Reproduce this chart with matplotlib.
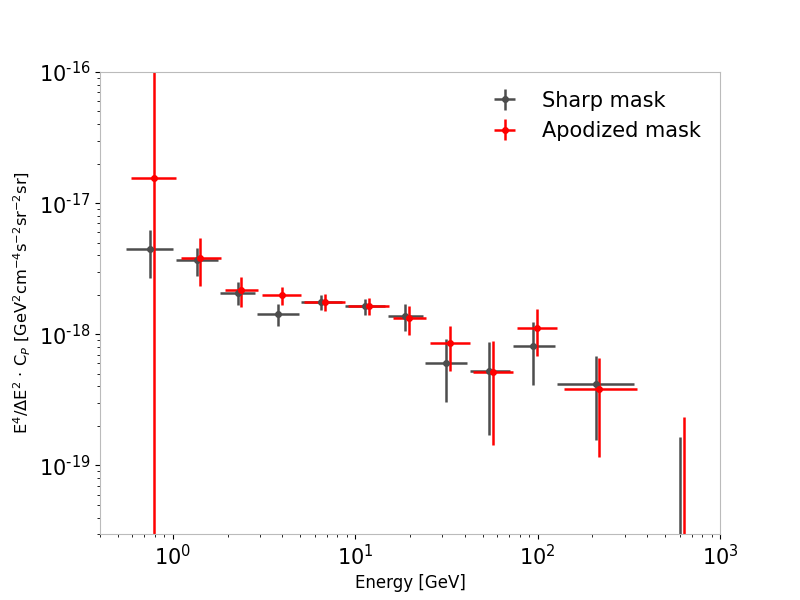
import numpy as np
import matplotlib
matplotlib.use('Agg')
from matplotlib import pyplot as plt
from matplotlib.ticker import FuncFormatter, FixedLocator

# sharp mask
sharp_e = [0.748, 1.355, 2.27, 3.78, 6.5, 11.35, 18.8, 31.6, 54.5, 95.0, 208.0, 603.0]
sharp_e_lo = [0.552, 1.05, 1.81, 2.89, 5.05, 8.8, 15.2, 24.2, 42.4, 73.0, 128.0, 590.0]
sharp_e_hi = [1.01, 1.77, 2.82, 4.92, 8.5, 14.6, 23.6, 41.2, 71.0, 124.0, 339.0, 615.0]
sharp_c = [4.49e-18, 3.70e-18, 2.07e-18, 1.43e-18, 1.77e-18, 1.65e-18, 1.39e-18,
           6.08e-19, 5.28e-19, 8.19e-19, 4.21e-19, 1.0e-20]
sharp_c_hi = [6.26e-18, 4.57e-18, 2.52e-18, 1.71e-18, 2.00e-18, 1.87e-18, 1.71e-18,
              9.25e-19, 8.79e-19, 1.23e-18, 6.87e-19, 1.66e-19]
sharp_c_lo = [2.71e-18, 2.79e-18, 1.68e-18, 1.16e-18, 1.54e-18, 1.41e-18, 1.06e-18,
              3.07e-19, 1.72e-19, 4.13e-19, 1.57e-19, 1.0e-21]

# apodized mask
apod_e = [0.786, 1.42, 2.38, 3.97, 6.83, 11.9, 19.7, 33.2, 57.2, 99.8, 218.0, 633.0]
apod_e_lo = [0.588, 1.106, 1.93, 3.08, 5.24, 9.2, 16.2, 25.8, 44.5, 77.0, 139.0, 620.0]
apod_e_hi = [1.05, 1.835, 2.93, 5.05, 8.81, 15.4, 24.5, 42.4, 73.5, 128.0, 352.0, 645.0]
apod_c = [1.56e-17, 3.83e-18, 2.19e-18, 2.00e-18, 1.77e-18, 1.65e-18, 1.32e-18,
          8.53e-19, 5.19e-19, 1.12e-18, 3.85e-19, 1.0e-20]
apod_c_hi = [1.3e-16, 5.44e-18, 2.75e-18, 2.31e-18, 2.04e-18, 1.90e-18, 1.65e-18,
             1.16e-18, 8.93e-19, 1.57e-18, 6.64e-19, 2.32e-19]
apod_c_lo = [1.0e-21, 2.32e-18, 1.62e-18, 1.68e-18, 1.51e-18, 1.41e-18, 9.93e-19,
             5.28e-19, 1.44e-19, 6.87e-19, 1.15e-19, 1.0e-21]

y_major = [1e-19, 1e-18, 1e-17, 1e-16]
x_major = [1e0, 1e1, 1e2, 1e3]


def errs(center, lo, hi):
    c = np.array(center)
    return [c - np.array(lo), np.array(hi) - c]


def pow_label(v, pos):
    e = int(round(np.log10(v)))
    sign = '\u2010' if e < 0 else ''
    return r'$\mathdefault{10^{%s%d}}$' % (sign, abs(e))


def main():
    fig, ax = plt.subplots(figsize=(8, 6), dpi=100)

    ax.errorbar(sharp_e, sharp_c,
                xerr=errs(sharp_e, sharp_e_lo, sharp_e_hi),
                yerr=errs(sharp_c, sharp_c_lo, sharp_c_hi),
                fmt='o', color='#4d4d4d', ms=4, elinewidth=1.8, capsize=0,
                label='Sharp mask')
    ax.errorbar(apod_e, apod_c,
                xerr=errs(apod_e, apod_e_lo, apod_e_hi),
                yerr=errs(apod_c, apod_c_lo, apod_c_hi),
                fmt='o', color='red', ms=4, elinewidth=1.8, capsize=0,
                label='Apodized mask')

    ax.set_xscale('log')
    ax.set_yscale('log')
    ax.set_xlim(0.4, 1000)
    ax.set_ylim(3e-20, 1e-16)
    ax.yaxis.set_major_locator(FixedLocator(y_major))
    ax.xaxis.set_major_locator(FixedLocator(x_major))
    ax.yaxis.set_major_formatter(FuncFormatter(pow_label))
    ax.xaxis.set_major_formatter(FuncFormatter(pow_label))

    for sp in ax.spines.values():
        sp.set_color('#bbbbbb')
    ax.tick_params(which='major', labelsize=15)

    ax.set_xlabel('Energy [GeV]', fontsize=12)
    ax.set_ylabel(r'E$^4$/$\Delta$E$^2$ $\cdot$ C$_P$ '
                  r'[GeV$^2$cm$^{-4}$s$^{-2}$sr$^{-2}$sr]', fontsize=11.7)
    ax.legend(loc='upper right', frameon=False, fontsize=15)

    fig.savefig('out.png')


if __name__ == '__main__':
    main()
